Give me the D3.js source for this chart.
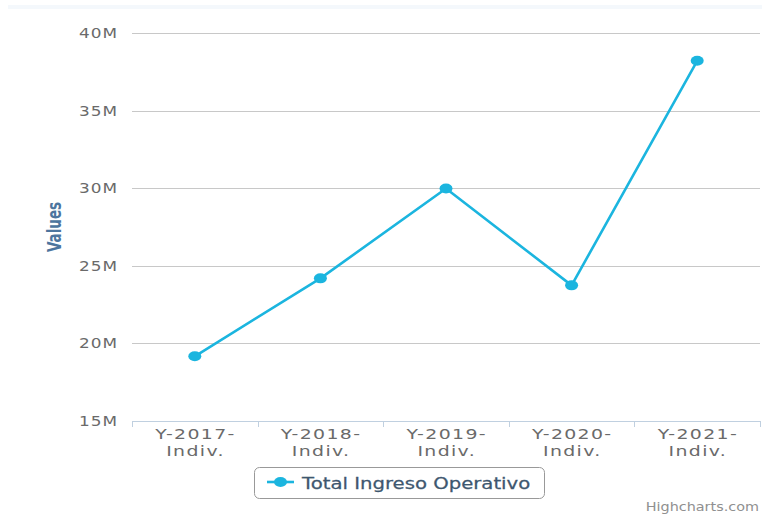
<!DOCTYPE html>
<html>
<head>
<meta charset="utf-8">
<script src="https://cdn.jsdelivr.net/npm/d3@7"></script>
<style>
  body { margin: 0; background: #fff; }
  svg { display: block; font-family: "DejaVu Sans", Verdana, sans-serif; }
</style>
</head>
<body>
<div id="chart"></div>
<script>
var categories = ["Y-2017-|Indiv.", "Y-2018-|Indiv.", "Y-2019-|Indiv.", "Y-2020-|Indiv.", "Y-2021-|Indiv."];
var values = [19170000, 24190000, 29980000, 23740000, 38210000];
var yTicks = [15000000, 20000000, 25000000, 30000000, 35000000, 40000000];
var seriesName = "Total Ingreso Operativo";

(function () {
var width = 771, height = 514;
var plotLeft = 132, plotRight = 760, plotTop = 33, plotBottom = 421;
var stretch = 1.35; // the reference is stretched sideways

var svg = d3.select("#chart").append("svg")
    .attr("width", width)
    .attr("height", height);

// faint strip along the top
svg.append("rect")
    .attr("x", 8).attr("y", 5)
    .attr("width", 754).attr("height", 4)
    .attr("fill", "#f4f8fc");

var x = d3.scaleBand().domain(categories).range([plotLeft, plotRight]);
var y = d3.scaleLinear().domain([15000000, 40000000]).range([plotBottom, plotTop]);

// grid lines
svg.append("g").selectAll("line")
    .data(yTicks.slice(1))
    .enter().append("line")
    .attr("x1", plotLeft).attr("x2", plotRight)
    .attr("y1", d => Math.round(y(d)) + 0.5).attr("y2", d => Math.round(y(d)) + 0.5)
    .attr("stroke", "#c8c8c8").attr("stroke-width", 1);

// y tick labels
svg.append("g").selectAll("text")
    .data(yTicks)
    .enter().append("text")
    .attr("transform", d => "translate(118," + (y(d) + 5) + ") scale(1.25,1)")
    .attr("text-anchor", "end")
    .attr("font-size", 13.5)
    .attr("letter-spacing", 0.8)
    .attr("fill", "#6a6a6a")
    .text(d => (d / 1000000) + "M");

// y axis title
svg.append("text")
    .attr("transform", "translate(61," + ((plotTop + plotBottom) / 2) + ") scale(1.4,1) rotate(-90)")
    .attr("text-anchor", "middle")
    .attr("font-size", 13.5)
    .attr("font-weight", "bold")
    .attr("fill", "#4d759e")
    .text("Values");

// x axis line and ticks
svg.append("line")
    .attr("x1", plotLeft).attr("x2", plotRight)
    .attr("y1", plotBottom + 0.5).attr("y2", plotBottom + 0.5)
    .attr("stroke", "#c0d0e0");

var tickPos = categories.map(c => x(c)).concat([plotRight]);
svg.append("g").selectAll("line")
    .data(tickPos)
    .enter().append("line")
    .attr("x1", d => Math.round(d) + 0.5).attr("x2", d => Math.round(d) + 0.5)
    .attr("y1", plotBottom).attr("y2", plotBottom + 6)
    .attr("stroke", "#c0d0e0");

// x labels (two lines)
var xl = svg.append("g").selectAll("g")
    .data(categories)
    .enter().append("g")
    .attr("transform", d => "translate(" + (x(d) + x.bandwidth() / 2 + 0.7) + ",439) scale(" + stretch + ",1)");
xl.append("text")
    .attr("text-anchor", "middle")
    .attr("font-size", 14)
    .attr("letter-spacing", 1)
    .attr("fill", "#6a6a6a")
    .text(d => d.split("|")[0]);
xl.append("text")
    .attr("text-anchor", "middle")
    .attr("y", 17)
    .attr("font-size", 14)
    .attr("letter-spacing", 1)
    .attr("fill", "#6a6a6a")
    .text(d => d.split("|")[1]);

// series line
var cx = (d, i) => x(categories[i]) + x.bandwidth() / 2;
var line = d3.line()
    .x(cx)
    .y(d => y(d));

svg.append("path")
    .datum(values)
    .attr("d", line)
    .attr("fill", "none")
    .attr("stroke", "#1bb5df")
    .attr("stroke-width", 2.6)
    .attr("stroke-linejoin", "round");

svg.append("g").selectAll("ellipse")
    .data(values)
    .enter().append("ellipse")
    .attr("cx", cx)
    .attr("cy", d => y(d))
    .attr("rx", 6.5)
    .attr("ry", 5)
    .attr("fill", "#1bb5df");

// legend
var lg = svg.append("g");
lg.append("rect")
    .attr("x", 254.5).attr("y", 467.5)
    .attr("width", 290).attr("height", 31)
    .attr("rx", 5).attr("ry", 5)
    .attr("fill", "#fff")
    .attr("stroke", "#999");
lg.append("line")
    .attr("x1", 267).attr("x2", 294)
    .attr("y1", 482).attr("y2", 482)
    .attr("stroke", "#1bb5df").attr("stroke-width", 2.6);
lg.append("ellipse")
    .attr("cx", 280.5).attr("cy", 482)
    .attr("rx", 6.5).attr("ry", 5)
    .attr("fill", "#1bb5df");
lg.append("text")
    .attr("transform", "translate(302,488.5) scale(1.23,1)")
    .attr("font-size", 16)
    .attr("fill", "#3e576f")
    .attr("stroke", "#3e576f")
    .attr("stroke-width", 0.25)
    .text(seriesName);

// credit
svg.append("text")
    .attr("transform", "translate(759,511) scale(1.2,1)")
    .attr("text-anchor", "end")
    .attr("font-size", 12)
    .attr("fill", "#909090")
    .text("Highcharts.com");
})();
</script>
</body>
</html>
